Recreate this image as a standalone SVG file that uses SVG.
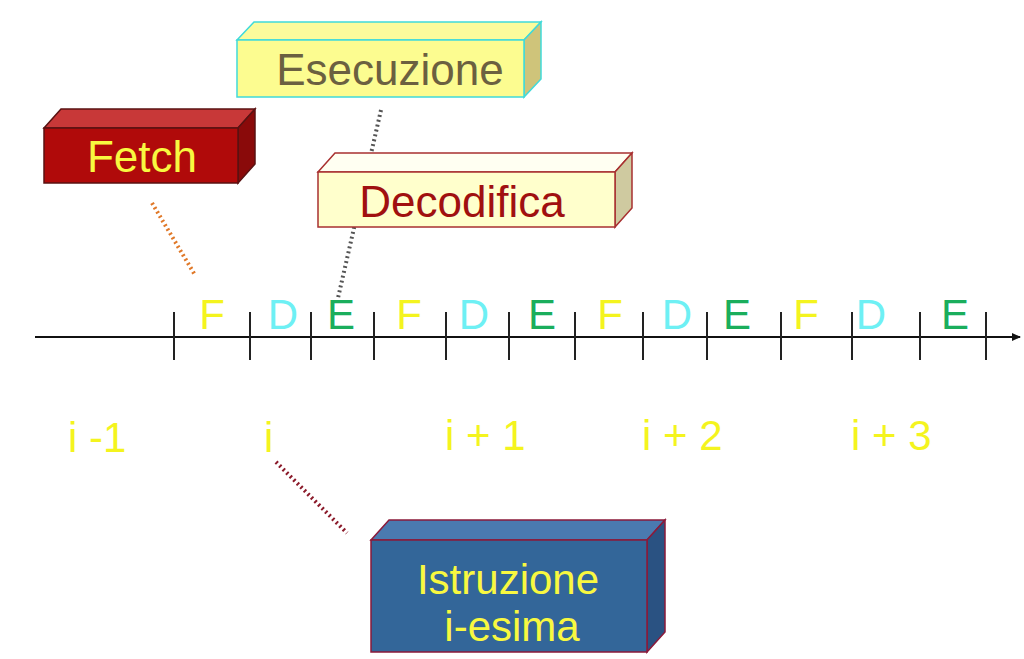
<svg xmlns="http://www.w3.org/2000/svg" width="1024" height="659" viewBox="0 0 1024 659">
  <defs>
    <marker id="arrow" markerWidth="10" markerHeight="10" refX="8" refY="5" orient="auto" markerUnits="userSpaceOnUse">
      <path d="M0,1 L9,5 L0,9 Z" fill="#111"/>
    </marker>
    <style>
      text { font-family: "Liberation Sans", Arial, sans-serif; }
      .lbl { font-size: 44px; text-anchor: middle; }
      .lbl2 { font-size: 42px; text-anchor: middle; }
      .step { font-size: 42px; text-anchor: middle; }
      .F { fill: #f4f41e; }
      .D { fill: #6ef0f4; }
      .E { fill: #1aae5c; }
      .idx { font-size: 42px; fill: #f4f41e; }
      .tick { stroke: #222; stroke-width: 2; }
      .dots { fill: none; stroke-width: 4; stroke-dasharray: 2 3; }
    </style>
  </defs>

  <rect width="1024" height="659" fill="#ffffff"/>

  <!-- connectors -->
  <g id="connectors">
    <line class="dots" x1="152" y1="203" x2="195" y2="275" stroke="#e07828" stroke-width="5"/>
    <line class="dots" x1="381" y1="110" x2="338" y2="298" stroke="#555"/>
    <line class="dots" x1="276" y1="462" x2="347" y2="533" stroke="#8b1a2a"/>
  </g>

  <!-- time axis -->
  <g id="axis">
    <line x1="35" y1="337" x2="1020" y2="337" stroke="#111" stroke-width="2" marker-end="url(#arrow)"/>
    <line class="tick" x1="174" y1="312" x2="174" y2="360"/>
    <line class="tick" x1="250" y1="312" x2="250" y2="360"/>
    <line class="tick" x1="311" y1="312" x2="311" y2="360"/>
    <line class="tick" x1="374" y1="312" x2="374" y2="360"/>
    <line class="tick" x1="446" y1="312" x2="446" y2="360"/>
    <line class="tick" x1="509" y1="312" x2="509" y2="360"/>
    <line class="tick" x1="575" y1="312" x2="575" y2="360"/>
    <line class="tick" x1="643" y1="312" x2="643" y2="360"/>
    <line class="tick" x1="707" y1="312" x2="707" y2="360"/>
    <line class="tick" x1="781" y1="312" x2="781" y2="360"/>
    <line class="tick" x1="852" y1="312" x2="852" y2="360"/>
    <line class="tick" x1="920" y1="312" x2="920" y2="360"/>
    <line class="tick" x1="986" y1="312" x2="986" y2="360"/>
  </g>

  <!-- pipeline phases -->
  <g id="phases">
    <text class="step F" x="212" y="329">F</text>
    <text class="step D" x="283" y="329">D</text>
    <text class="step E" x="341" y="329">E</text>
    <text class="step F" x="409" y="329">F</text>
    <text class="step D" x="474" y="329">D</text>
    <text class="step E" x="542" y="329">E</text>
    <text class="step F" x="610" y="329">F</text>
    <text class="step D" x="677" y="329">D</text>
    <text class="step E" x="737" y="329">E</text>
    <text class="step F" x="806" y="329">F</text>
    <text class="step D" x="871" y="329">D</text>
    <text class="step E" x="955" y="329">E</text>
  </g>

  <!-- instruction indices -->
  <g id="indices">
    <text class="idx" x="68" y="452">i -1</text>
    <text class="idx" x="264" y="452">i</text>
    <text class="idx" x="445" y="450">i + 1</text>
    <text class="idx" x="642" y="450">i + 2</text>
    <text class="idx" x="851" y="450">i + 3</text>
  </g>

  <!-- Fetch block -->
  <g id="fetch">
    <polygon points="44,128 61,109 255,109 238,128" fill="#c83838" stroke="#5a1212" stroke-width="1.5"/>
    <polygon points="238,128 255,109 255,164 238,183" fill="#8a0a0a" stroke="#5a1212" stroke-width="1.5"/>
    <rect x="44" y="128" width="194" height="55" fill="#b00a0a" stroke="#5a1212" stroke-width="1.5"/>
    <text class="lbl" x="142" y="172" fill="#f8f840">Fetch</text>
  </g>

  <!-- Esecuzione block -->
  <g id="esecuzione">
    <polygon points="237,40 254,22 541,22 524,40" fill="#fbfb9c" stroke="#40dada" stroke-width="1.5"/>
    <polygon points="524,40 541,22 541,79 524,97" fill="#cfc47a" stroke="#40dada" stroke-width="1.5"/>
    <rect x="237" y="40" width="287" height="57" fill="#fcfc90" stroke="#40dada" stroke-width="1.5"/>
    <text class="lbl" x="390" y="85" fill="#6b6040">Esecuzione</text>
  </g>

  <!-- Decodifica block -->
  <g id="decodifica">
    <polygon points="318,172 335,153 632,153 615,172" fill="#fffff2" stroke="#a83030" stroke-width="1.5"/>
    <polygon points="615,172 632,153 632,208 615,227" fill="#cfcaa0" stroke="#a83030" stroke-width="1.5"/>
    <rect x="318" y="172" width="297" height="55" fill="#ffffcc" stroke="#a83030" stroke-width="1.5"/>
    <text class="lbl" x="462" y="217" fill="#a01010">Decodifica</text>
  </g>

  <!-- Istruzione i-esima block -->
  <g id="istruzione">
    <polygon points="371,540 389,520 665,520 647,540" fill="#4a7ab0" stroke="#8b1a3a" stroke-width="1.5"/>
    <polygon points="647,540 665,520 665,632 647,652" fill="#2a5282" stroke="#8b1a3a" stroke-width="1.5"/>
    <rect x="371" y="540" width="276" height="112" fill="#336699" stroke="#8b1a3a" stroke-width="1.5"/>
    <text class="lbl2" x="508" y="594" fill="#f8f840">Istruzione</text>
    <text class="lbl2" x="512" y="641" fill="#f8f840">i-esima</text>
  </g>
</svg>
